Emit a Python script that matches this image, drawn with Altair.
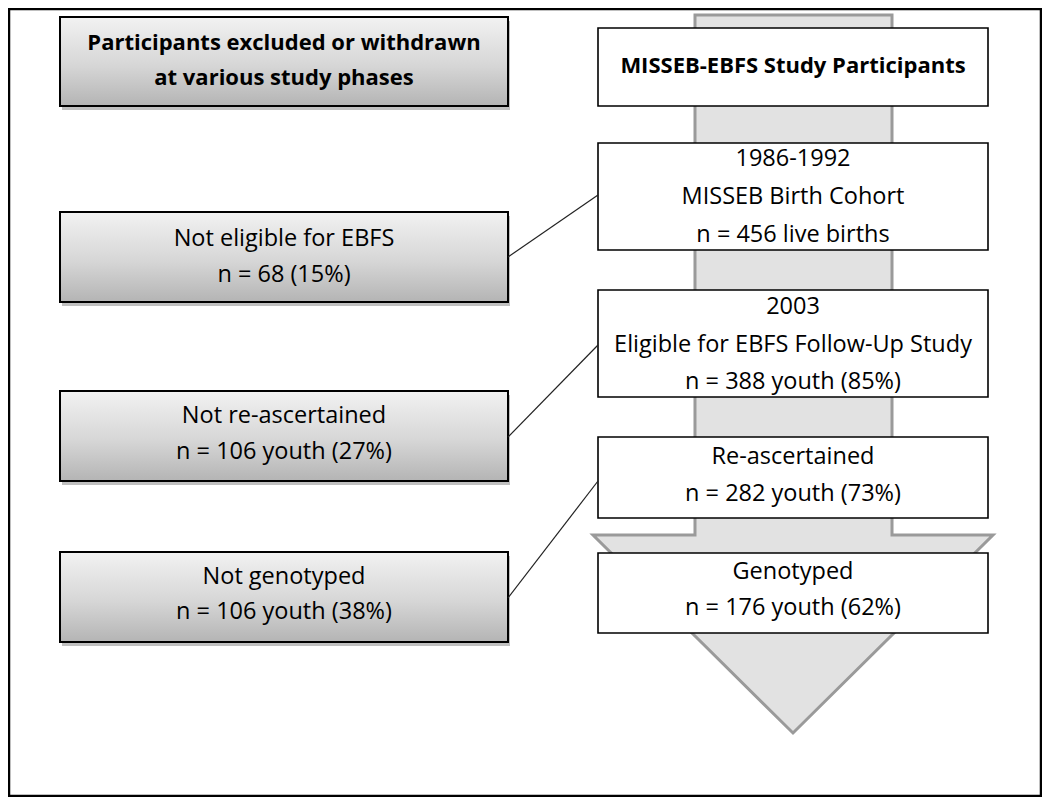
import altair as alt
import pandas as pd

# ---------------- content ----------------
header_left = ["Participants excluded or withdrawn", "at various study phases"]
header_right = ["MISSEB-EBFS Study Participants"]
stage_lines = [
    ["1986-1992", "MISSEB Birth Cohort", "n = 456 live births"],
    ["2003", "Eligible for EBFS Follow-Up Study", "n = 388 youth (85%)"],
    ["Re-ascertained", "n = 282 youth (73%)"],
    ["Genotyped", "n = 176 youth (62%)"],
]
excluded_lines = [
    ["Not eligible for EBFS", "n = 68 (15%)"],
    ["Not re-ascertained", "n = 106 youth (27%)"],
    ["Not genotyped", "n = 106 youth (38%)"],
]

# ---------------- layout (page pixel coordinates) ----------------
FONT = "Open Sans"
FS = 23.5
BFS = 22
frame = dict(x=9, x2=1041, y=9, y2=796)

left_header_box = dict(x=60, x2=508, y=17, y2=106)
left_header_ys = [43, 78]
right_header_box = dict(x=598, x2=988, y=28, y2=106)
right_header_ys = [66]

stage_boxes = [(143, 250), (290, 397), (437, 518), (553, 633)]
stage_ys = [[159, 197, 235], [307, 345, 382], [457, 494], [572, 608]]
stage_x = (598, 988)

excl_boxes = [(212, 302), (391, 481), (552, 642)]
excl_ys = [[239, 275], [416, 452], [577, 612]]
excl_x = (60, 508)

connectors = [((508, 257), (598, 195)), ((508, 437), (598, 345)), ((508, 598), (598, 481))]

# arrow outline as a vertical band: (x, top y, bottom y)
arrow_pts = [
    (593.0, 535, 535),
    (694.99, 535, 636),
    (695.0, 15, 636),
    (793.0, 15, 733),
    (892.0, 15, 635),
    (892.01, 535, 635),
    (993.0, 535, 535),
]

# ---------------- scales ----------------
xs = alt.Scale(domain=[8, 1042], nice=False, zero=False)
ys = alt.Scale(domain=[8, 797], nice=False, zero=False, reverse=True)


def X(f):
    return alt.X(f, type="quantitative", scale=xs, axis=None)


def Y(f):
    return alt.Y(f, type="quantitative", scale=ys, axis=None)


# ---------------- data frames ----------------
frame_df = pd.DataFrame([frame])

arrow_df = pd.DataFrame(arrow_pts, columns=["x", "top", "bot"])

gray_boxes = [left_header_box] + [dict(x=excl_x[0], x2=excl_x[1], y=a, y2=b) for a, b in excl_boxes]
gray_df = pd.DataFrame(gray_boxes)
shadow_df = gray_df.copy()
shadow_df["x"] += 2
shadow_df["x2"] += 2
shadow_df["y"] += 4
shadow_df["y2"] += 4

white_boxes = [right_header_box] + [dict(x=stage_x[0], x2=stage_x[1], y=a, y2=b) for a, b in stage_boxes]
white_df = pd.DataFrame(white_boxes)

conn_df = pd.DataFrame([dict(x=a[0], y=a[1], x2=b[0], y2=b[1]) for a, b in connectors])

bold_rows = []
cx_l = (left_header_box["x"] + left_header_box["x2"]) / 2
for t, yy in zip(header_left, left_header_ys):
    bold_rows.append(dict(x=cx_l, y=yy, text=t))
cx_r = (right_header_box["x"] + right_header_box["x2"]) / 2
for t, yy in zip(header_right, right_header_ys):
    bold_rows.append(dict(x=cx_r, y=yy, text=t))
bold_df = pd.DataFrame(bold_rows)

plain_rows = []
cx_s = (stage_x[0] + stage_x[1]) / 2
for lines, ys_ in zip(stage_lines, stage_ys):
    for t, yy in zip(lines, ys_):
        plain_rows.append(dict(x=cx_s, y=yy, text=t))
cx_e = (excl_x[0] + excl_x[1]) / 2
for lines, ys_ in zip(excluded_lines, excl_ys):
    for t, yy in zip(lines, ys_):
        plain_rows.append(dict(x=cx_e, y=yy, text=t))
plain_df = pd.DataFrame(plain_rows)

# ---------------- layers ----------------
frame_layer = alt.Chart(frame_df).mark_rect(fill="white", stroke="black", strokeWidth=2.5).encode(
    x=X("x"), x2=alt.X2("x2"), y=Y("y"), y2=alt.Y2("y2")
)

arrow_layer = alt.Chart(arrow_df).mark_area(
    fill="#e2e2e2", stroke="#9a9a9a", strokeWidth=3, interpolate="linear"
).encode(x=X("x"), y=Y("top"), y2=alt.Y2("bot"))

shadow_layer = alt.Chart(shadow_df).mark_rect(fill="#8c8c8c", opacity=0.55).encode(
    x=X("x"), x2=alt.X2("x2"), y=Y("y"), y2=alt.Y2("y2")
)

grad = alt.LinearGradient(
    gradient="linear",
    stops=[
        alt.GradientStop(color="#f2f2f2", offset=0),
        alt.GradientStop(color="#d6d6d6", offset=0.55),
        alt.GradientStop(color="#b4b4b4", offset=1),
    ],
    x1=0, x2=0, y1=0, y2=1,
)
gray_layer = alt.Chart(gray_df).mark_rect(fill=grad, stroke="black", strokeWidth=2).encode(
    x=X("x"), x2=alt.X2("x2"), y=Y("y"), y2=alt.Y2("y2")
)

white_layer = alt.Chart(white_df).mark_rect(fill="white", stroke="black", strokeWidth=1.6).encode(
    x=X("x"), x2=alt.X2("x2"), y=Y("y"), y2=alt.Y2("y2")
)

conn_layer = alt.Chart(conn_df).mark_rule(color="#222222", strokeWidth=1.2).encode(
    x=X("x"), y=Y("y"), x2=alt.X2("x2"), y2=alt.Y2("y2")
)

bold_layer = alt.Chart(bold_df).mark_text(
    font=FONT, fontSize=BFS, fontWeight="bold", color="black", align="center", baseline="middle"
).encode(x=X("x"), y=Y("y"), text="text:N")

plain_layer = alt.Chart(plain_df).mark_text(
    font=FONT, fontSize=FS, color="black", align="center", baseline="middle"
).encode(x=X("x"), y=Y("y"), text="text:N")

chart = (
    alt.layer(frame_layer, arrow_layer, shadow_layer, gray_layer, white_layer, conn_layer, bold_layer, plain_layer)
    .properties(width=1034, height=789, padding=0, autosize=alt.AutoSizeParams(type="none"))
    .configure_view(stroke=None)
)

chart.save("out.html", embed_options={"renderer": "svg", "actions": False})
